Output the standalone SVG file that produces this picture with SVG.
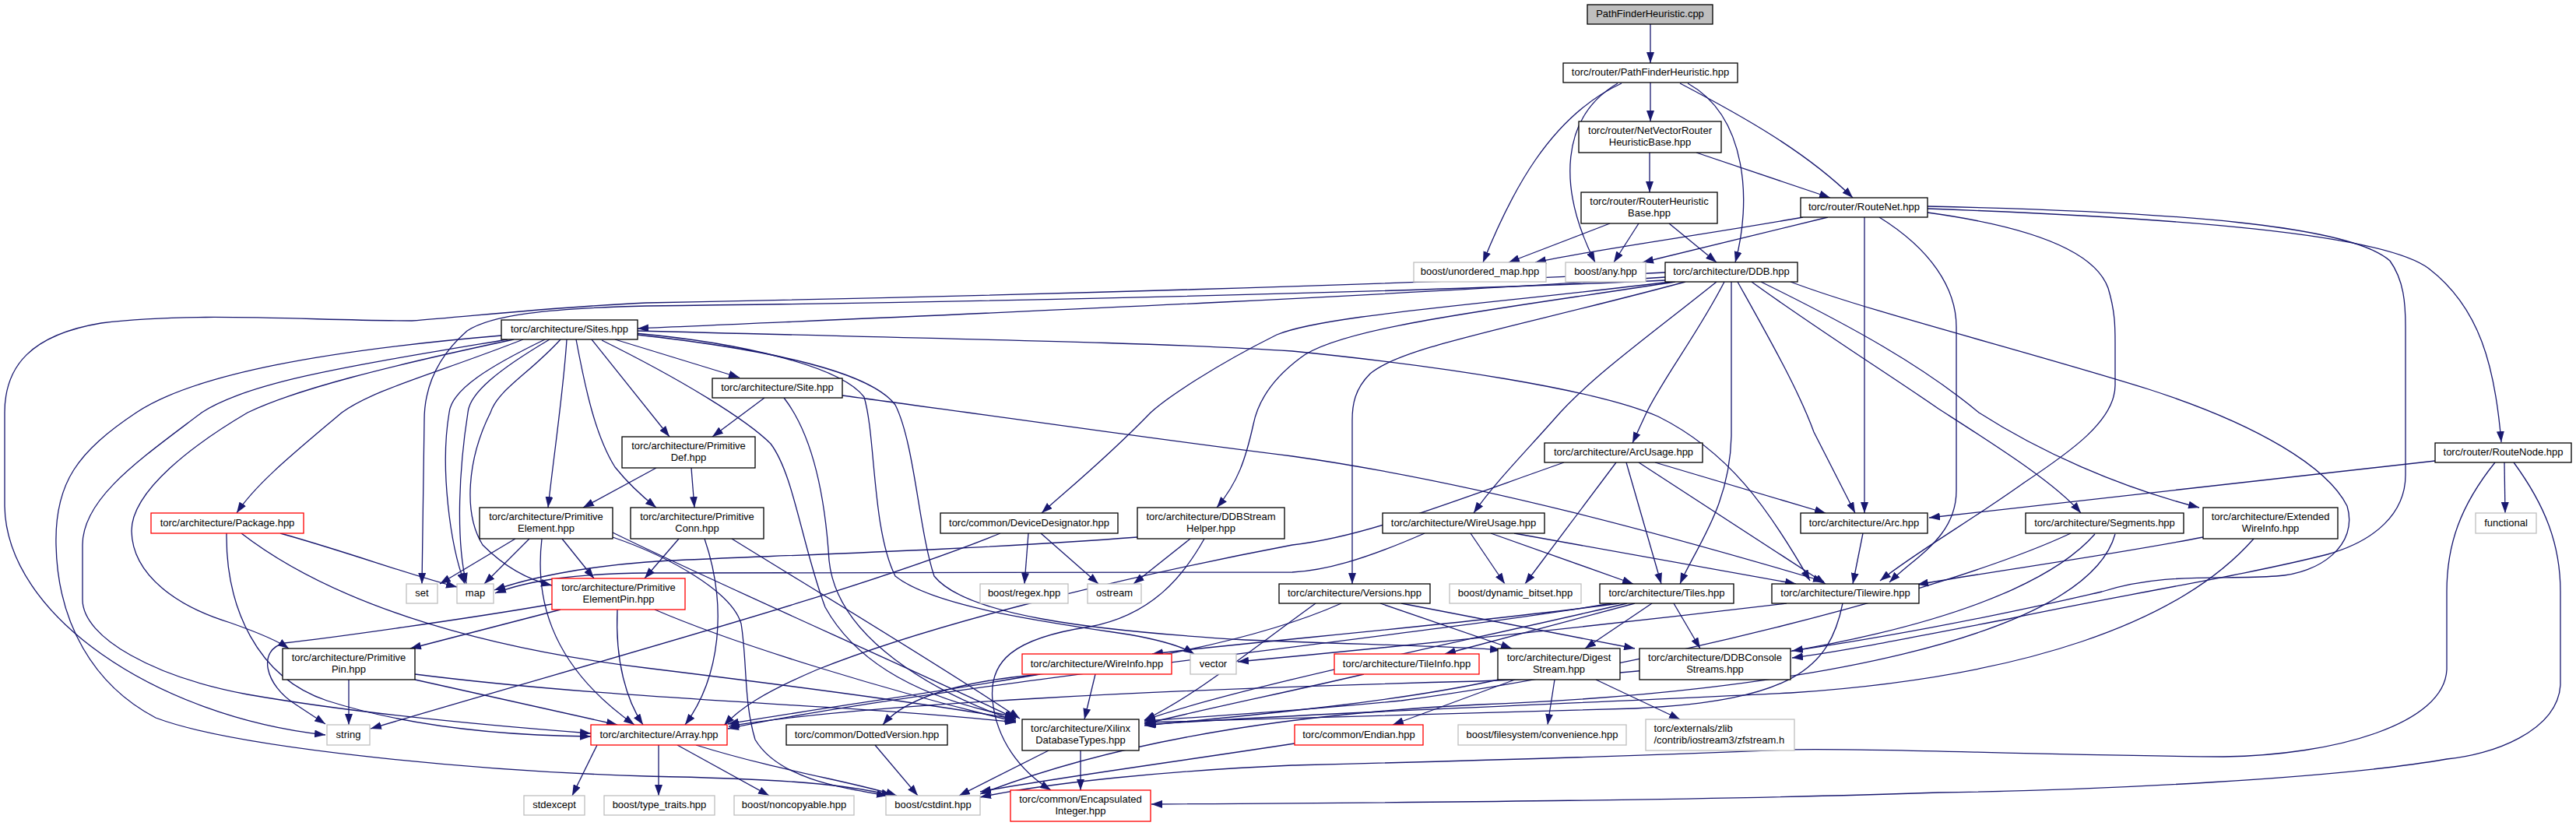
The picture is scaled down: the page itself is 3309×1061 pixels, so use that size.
<svg xmlns="http://www.w3.org/2000/svg" width="3309" height="1061" viewBox="0 0 3309 1061">
<style>
.e{fill:none;stroke:#191970;stroke-width:1.3;marker-end:url(#a)}
.nd rect{fill:#fff;stroke:#000;stroke-width:1.3}
.rd rect{fill:#fff;stroke:#ff0000;stroke-width:1.3}
.gy rect{fill:#fff;stroke:#bfbfbf;stroke-width:1.3}
text{font-family:"Liberation Sans",Arial,sans-serif;font-size:13px;fill:#000;text-anchor:middle}
</style>
<defs><marker id="a" markerUnits="userSpaceOnUse" markerWidth="14" markerHeight="10" refX="14" refY="5" orient="auto"><path d="M0,0L14,5L0,10z" fill="#191970"/></marker></defs>
<rect width="3309" height="1061" fill="#fff"/>
<g id="edges">
<path class="e" d="M2120,31 L2120,81"/>
<path class="e" d="M2120,106 L2120,156"/>
<path class="e" d="M2119,196 L2119,247"/>
<path class="e" d="M2179,196 L2351,254"/>
<path class="e" d="M2158,107 C2240,150 2320,195 2380,254"/>
<path class="e" d="M2083,107 C1990,150 1940,250 1905,337"/>
<path class="e" d="M2078,107 C2005,150 2000,240 2049,337"/>
<path class="e" d="M2168,107 C2245,150 2250,260 2229,337"/>
<path class="e" d="M2068,287 L1938,337"/>
<path class="e" d="M2105,287 L2073,337"/>
<path class="e" d="M2144,287 L2205,337"/>
<path class="e" d="M2316,279 C2200,300 2050,320 1972,337"/>
<path class="e" d="M2348,279 L2110,337"/>
<path class="e" d="M2395,279 L2395,659"/>
<path class="e" d="M2414,279 C2480,320 2513,370 2513,420 L2513,630 C2513,690 2460,715 2427,748"/>
<path class="e" d="M2476,268 C2800,280 3060,300 3120,345 C3185,395 3205,470 3213,568"/>
<path class="e" d="M2476,273 C2600,290 2690,320 2708,370 C2717,400 2717,420 2717,440 L2717,495 C2717,540 2660,580 2600,620 C2530,670 2460,710 2415,746"/>
<path class="e" d="M2476,265 C2800,272 3020,290 3070,335 C3088,360 3090,390 3090,420 L3090,610 C3090,660 3050,695 2990,712 C2880,740 2720,765 2580,795 C2450,820 2360,838 2302,845"/>
<path class="e" d="M2139,356 C1700,385 1200,405 819,422"/>
<path class="e" d="M2139,350 C1800,365 1300,380 830,389 C700,395 600,407 529,412 C400,412 250,400 130,415 C40,430 6,470 6,530 L6,650 C8,790 200,920 418,944"/>
<path class="e" d="M2140,360 C1700,380 1100,390 830,393 C700,396 630,405 600,425 C560,460 545,500 545,540 L542,750"/>
<path class="e" d="M2145,362 C1900,392 1700,405 1640,430 C1560,470 1500,510 1478,530 C1420,590 1370,630 1338,659"/>
<path class="e" d="M2152,362 C1920,398 1720,420 1670,460 C1630,490 1615,520 1610,545 C1600,590 1590,620 1563,652"/>
<path class="e" d="M2165,362 C1950,420 1800,445 1760,480 C1740,500 1737,520 1737,540 L1737,750"/>
<path class="e" d="M2205,362 C2120,430 2050,480 2004,530 C1960,580 1920,620 1893,659"/>
<path class="e" d="M2215,362 C2180,430 2140,480 2115,530 L2097,569"/>
<path class="e" d="M2224,362 L2224,560 C2222,650 2180,700 2158,750"/>
<path class="e" d="M2232,362 C2270,430 2310,500 2330,555 L2383,659"/>
<path class="e" d="M2250,362 C2330,420 2440,490 2490,525 C2560,570 2640,620 2673,659"/>
<path class="e" d="M2262,362 C2380,420 2470,470 2542,530 C2620,580 2720,625 2825,652"/>
<path class="e" d="M2300,362 C2400,400 2600,450 2760,500 C2900,545 2990,600 3015,650 C3030,700 2980,737 2924,740 C2850,745 2780,735 2700,760 C2550,795 2400,822 2302,836"/>
<path class="e" d="M790,436 L950,485"/>
<path class="e" d="M760,436 L860,561"/>
<path class="e" d="M728,436 C724,500 712,580 704,652"/>
<path class="e" d="M740,436 C752,500 765,560 790,600 C810,625 828,640 843,652"/>
<path class="e" d="M720,436 C680,480 640,500 630,530 C600,590 595,660 620,700 C650,730 680,745 709,752"/>
<path class="e" d="M700,436 C630,470 580,500 577,530 C565,600 578,700 597,750"/>
<path class="e" d="M706,436 C640,475 603,505 601,530 C590,600 585,690 599,750"/>
<path class="e" d="M672,436 C560,480 480,500 439,530 C380,580 330,620 304,659"/>
<path class="e" d="M660,436 C500,470 380,500 318,530 C250,570 169,630 169,682 C170,740 230,780 296,800 C330,812 355,822 371,833"/>
<path class="e" d="M652,436 C450,470 320,490 259,530 C180,590 106,640 106,700 L106,770 C106,820 200,870 318,892 C450,915 600,930 759,942"/>
<path class="e" d="M644,431 C420,450 250,480 175,530 C100,580 70,620 72,700 C74,800 120,880 200,922 C300,960 600,990 830,997 C980,1000 1080,1005 1146,1022"/>
<path class="e" d="M819,425 C1200,435 1500,440 1660,451 C1850,470 2050,500 2130,535 C2220,580 2270,650 2325,746"/>
<path class="e" d="M815,428 C950,440 1080,470 1110,510 C1125,560 1120,680 1150,740 C1200,780 1350,800 1450,815 C1490,822 1518,830 1534,840"/>
<path class="e" d="M818,430 C1000,450 1120,480 1150,520 C1175,570 1180,680 1200,740 C1240,790 1400,810 1600,822 C1750,828 1870,830 1928,835"/>
<path class="e" d="M773,437 C880,490 960,540 990,570 C1020,610 1030,700 1060,780 C1110,870 1220,905 1305,921"/>
<path class="e" d="M982,511 L915,561"/>
<path class="e" d="M1082,508 C1250,530 1450,560 1660,586 C1900,620 2150,690 2343,747"/>
<path class="e" d="M1007,511 C1045,560 1060,640 1065,720 C1075,820 1200,890 1305,926"/>
<path class="e" d="M843,601 L749,652"/>
<path class="e" d="M888,601 L892,652"/>
<path class="e" d="M662,692 L565,750"/>
<path class="e" d="M680,692 L622,750"/>
<path class="e" d="M696,692 C688,760 700,850 815,931"/>
<path class="e" d="M722,692 L763,743"/>
<path class="e" d="M787,684 C900,740 1150,850 1305,923"/>
<path class="e" d="M787,690 C860,715 940,760 952,801 C960,850 955,900 970,950 C1000,1000 1080,1012 1140,1022"/>
<path class="e" d="M872,692 L828,743"/>
<path class="e" d="M940,692 C1050,760 1200,850 1310,923"/>
<path class="e" d="M905,692 C935,780 925,870 880,931"/>
<path class="e" d="M709,776 C600,795 420,820 365,826 C330,835 340,880 380,905 L418,930"/>
<path class="e" d="M720,783 L527,833"/>
<path class="e" d="M793,783 C790,850 805,900 826,931"/>
<path class="e" d="M841,783 C950,830 1150,890 1305,927"/>
<path class="e" d="M448,873 L448,931"/>
<path class="e" d="M533,866 C800,900 1100,905 1305,928"/>
<path class="e" d="M533,873 L793,931"/>
<path class="e" d="M360,685 C450,710 530,740 587,754"/>
<path class="e" d="M291,685 C290,780 330,870 420,900 C530,935 650,945 759,946"/>
<path class="e" d="M310,685 C420,770 600,830 830,858 C1050,885 1200,905 1305,924"/>
<path class="e" d="M1285,685 C1100,760 800,840 476,936"/>
<path class="e" d="M1321,685 L1316,750"/>
<path class="e" d="M1337,685 L1411,750"/>
<path class="e" d="M1461,690 C1200,710 900,716 830,722 C750,728 680,742 635,758"/>
<path class="e" d="M1529,692 L1456,750"/>
<path class="e" d="M1547,692 C1520,740 1480,790 1400,805 C1300,820 1270,850 1275,900 C1280,950 1310,990 1350,1015"/>
<path class="e" d="M1723,775 C1600,830 1400,860 1300,870 C1220,880 1160,900 1134,931"/>
<path class="e" d="M1773,775 L1942,833"/>
<path class="e" d="M1800,775 L2100,833"/>
<path class="e" d="M1690,775 C1600,840 1540,890 1470,925"/>
<path class="e" d="M1889,685 L1933,750"/>
<path class="e" d="M1915,685 L2098,750"/>
<path class="e" d="M1945,685 L2307,750"/>
<path class="e" d="M1830,685 C1750,720 1700,733 1660,735 L830,736 C740,737 680,745 636,762"/>
<path class="e" d="M2076,594 L1959,750"/>
<path class="e" d="M2089,594 L2134,750"/>
<path class="e" d="M2105,594 L2345,750"/>
<path class="e" d="M2126,594 L2345,659"/>
<path class="e" d="M2009,594 C1850,650 1750,690 1660,700 C1450,740 1200,800 1050,860 C980,890 950,910 930,932"/>
<path class="e" d="M2393,685 L2380,750"/>
<path class="e" d="M2100,775 L1856,840"/>
<path class="e" d="M2122,775 L2036,833"/>
<path class="e" d="M2150,775 L2184,833"/>
<path class="e" d="M2070,775 C1800,820 1200,880 935,936"/>
<path class="e" d="M2080,775 C1900,800 1600,825 1480,840"/>
<path class="e" d="M2090,775 C1900,820 1600,880 1470,925"/>
<path class="e" d="M2295,775 C2000,810 1750,835 1590,850"/>
<path class="e" d="M2367,775 C2350,860 2300,900 2100,910 C1800,920 1600,925 1470,928"/>
<path class="e" d="M1752,866 C1650,890 1550,910 1470,930"/>
<path class="e" d="M1946,873 L1789,931"/>
<path class="e" d="M1997,873 L1988,931"/>
<path class="e" d="M2050,873 L2158,924"/>
<path class="e" d="M1925,873 C1800,900 1650,915 1470,932"/>
<path class="e" d="M1336,866 C1200,890 1050,910 935,930"/>
<path class="e" d="M1407,866 L1393,924"/>
<path class="e" d="M1347,964 L1232,1022"/>
<path class="e" d="M1388,964 L1388,1015"/>
<path class="e" d="M767,957 L735,1022"/>
<path class="e" d="M846,957 L846,1022"/>
<path class="e" d="M870,957 L988,1022"/>
<path class="e" d="M894,957 C1000,990 1100,1005 1152,1022"/>
<path class="e" d="M1124,957 L1179,1022"/>
<path class="e" d="M1663,955 C1500,980 1350,1000 1259,1017"/>
<path class="e" d="M2660,685 C2500,760 2100,860 1800,900 C1650,915 1550,920 1470,926"/>
<path class="e" d="M2691,686 C2600,790 2300,860 1900,875 C1500,885 1100,905 936,933"/>
<path class="e" d="M2717,686 C2680,820 2300,890 1900,905 C1600,920 1400,965 1259,1020"/>
<path class="e" d="M2830,690 C2700,715 2550,735 2463,751"/>
<path class="e" d="M2895,692 C2800,800 2600,870 2300,890 C2000,905 1700,915 1471,931"/>
<path class="e" d="M3128,592 L2478,665"/>
<path class="e" d="M3217,594 L3218,659"/>
<path class="e" d="M3205,594 C3160,650 3143,700 3143,760 L3143,860 C3140,930 3000,970 2856,972 C2600,970 2400,960 2295,963 C2000,975 1700,982 1660,983 C1500,990 1350,1005 1259,1024"/>
<path class="e" d="M3229,594 C3270,650 3289,700 3289,760 L3289,880 C3285,940 3200,970 3143,975 C3000,1000 2700,1015 2490,1018 C2200,1028 1800,1031 1479,1033"/>
</g>
<g id="n_cpp" class="nd"><rect x="2039" y="6" width="161" height="25" style="fill:#bfbfbf"/><text x="2119.5" y="22.3">PathFinderHeuristic.cpp</text></g>
<g id="n_pfh" class="nd"><rect x="2008" y="81" width="224" height="25"/><text x="2120" y="97.3">torc/router/PathFinderHeuristic.hpp</text></g>
<g id="n_nvr" class="nd"><rect x="2028" y="156" width="183" height="40"/><text x="2119.5" y="171.7">torc/router/NetVectorRouter</text><text x="2119.5" y="186.7">HeuristicBase.hpp</text></g>
<g id="n_rhb" class="nd"><rect x="2031" y="247" width="175" height="40"/><text x="2118.5" y="262.7">torc/router/RouterHeuristic</text><text x="2118.5" y="277.7">Base.hpp</text></g>
<g id="n_routenet" class="nd"><rect x="2313" y="254" width="163" height="25"/><text x="2394.5" y="270.3">torc/router/RouteNet.hpp</text></g>
<g id="n_umap" class="gy"><rect x="1816" y="337" width="170" height="25"/><text x="1901" y="353.3">boost/unordered_map.hpp</text></g>
<g id="n_any" class="gy"><rect x="2011" y="337" width="103" height="25"/><text x="2062.5" y="353.3">boost/any.hpp</text></g>
<g id="n_ddb" class="nd"><rect x="2139" y="337" width="170" height="25"/><text x="2224" y="353.3">torc/architecture/DDB.hpp</text></g>
<g id="n_sites" class="nd"><rect x="644" y="411" width="175" height="25"/><text x="731.5" y="427.3">torc/architecture/Sites.hpp</text></g>
<g id="n_site" class="nd"><rect x="915" y="486" width="167" height="25"/><text x="998.5" y="502.3">torc/architecture/Site.hpp</text></g>
<g id="n_primdef" class="nd"><rect x="799" y="561" width="171" height="40"/><text x="884.5" y="576.7">torc/architecture/Primitive</text><text x="884.5" y="591.7">Def.hpp</text></g>
<g id="n_package" class="rd"><rect x="194" y="659" width="196" height="26"/><text x="292" y="675.5">torc/architecture/Package.hpp</text></g>
<g id="n_primel" class="nd"><rect x="616" y="652" width="171" height="40"/><text x="701.5" y="667.7">torc/architecture/Primitive</text><text x="701.5" y="682.7">Element.hpp</text></g>
<g id="n_primconn" class="nd"><rect x="810" y="652" width="171" height="40"/><text x="895.5" y="667.7">torc/architecture/Primitive</text><text x="895.5" y="682.7">Conn.hpp</text></g>
<g id="n_devdes" class="nd"><rect x="1208" y="659" width="228" height="26"/><text x="1322" y="675.5">torc/common/DeviceDesignator.hpp</text></g>
<g id="n_ddbsh" class="nd"><rect x="1461" y="652" width="189" height="40"/><text x="1555.5" y="667.7">torc/architecture/DDBStream</text><text x="1555.5" y="682.7">Helper.hpp</text></g>
<g id="n_arcusage" class="nd"><rect x="1984" y="569" width="203" height="25"/><text x="2085.5" y="585.3">torc/architecture/ArcUsage.hpp</text></g>
<g id="n_wireusage" class="nd"><rect x="1776" y="659" width="208" height="26"/><text x="1880" y="675.5">torc/architecture/WireUsage.hpp</text></g>
<g id="n_arc" class="nd"><rect x="2313" y="659" width="163" height="26"/><text x="2394.5" y="675.5">torc/architecture/Arc.hpp</text></g>
<g id="n_segments" class="nd"><rect x="2602" y="659" width="203" height="26"/><text x="2703.5" y="675.5">torc/architecture/Segments.hpp</text></g>
<g id="n_extwi" class="nd"><rect x="2830" y="652" width="173" height="40"/><text x="2916.5" y="667.7">torc/architecture/Extended</text><text x="2916.5" y="682.7">WireInfo.hpp</text></g>
<g id="n_routenode" class="nd"><rect x="3128" y="569" width="175" height="25"/><text x="3215.5" y="585.3">torc/router/RouteNode.hpp</text></g>
<g id="n_functional" class="gy"><rect x="3180" y="659" width="78" height="26"/><text x="3219" y="675.5">functional</text></g>
<g id="n_set" class="gy"><rect x="522" y="750" width="40" height="25"/><text x="542" y="766.3">set</text></g>
<g id="n_map" class="gy"><rect x="587" y="750" width="47" height="25"/><text x="610.5" y="766.3">map</text></g>
<g id="n_pep" class="rd"><rect x="709" y="743" width="171" height="40"/><text x="794.5" y="758.7">torc/architecture/Primitive</text><text x="794.5" y="773.7">ElementPin.hpp</text></g>
<g id="n_regex" class="gy"><rect x="1259" y="750" width="113" height="25"/><text x="1315.5" y="766.3">boost/regex.hpp</text></g>
<g id="n_ostream" class="gy"><rect x="1397" y="750" width="69" height="25"/><text x="1431.5" y="766.3">ostream</text></g>
<g id="n_versions" class="nd"><rect x="1643" y="750" width="194" height="25"/><text x="1740" y="766.3">torc/architecture/Versions.hpp</text></g>
<g id="n_dynbit" class="gy"><rect x="1862" y="750" width="169" height="25"/><text x="1946.5" y="766.3">boost/dynamic_bitset.hpp</text></g>
<g id="n_tiles" class="nd"><rect x="2055" y="750" width="172" height="25"/><text x="2141" y="766.3">torc/architecture/Tiles.hpp</text></g>
<g id="n_tilewire" class="nd"><rect x="2276" y="750" width="189" height="25"/><text x="2370.5" y="766.3">torc/architecture/Tilewire.hpp</text></g>
<g id="n_primpin" class="nd"><rect x="363" y="833" width="170" height="40"/><text x="448" y="848.7">torc/architecture/Primitive</text><text x="448" y="863.7">Pin.hpp</text></g>
<g id="n_wireinfo" class="rd"><rect x="1313" y="840" width="192" height="26"/><text x="1409" y="856.5">torc/architecture/WireInfo.hpp</text></g>
<g id="n_vector" class="gy"><rect x="1529" y="840" width="59" height="26"/><text x="1558.5" y="856.5">vector</text></g>
<g id="n_tileinfo" class="rd"><rect x="1714" y="840" width="186" height="26"/><text x="1807" y="856.5">torc/architecture/TileInfo.hpp</text></g>
<g id="n_digest" class="nd"><rect x="1924" y="833" width="157" height="40"/><text x="2002.5" y="848.7">torc/architecture/Digest</text><text x="2002.5" y="863.7">Stream.hpp</text></g>
<g id="n_ddbcs" class="nd"><rect x="2106" y="833" width="194" height="40"/><text x="2203" y="848.7">torc/architecture/DDBConsole</text><text x="2203" y="863.7">Streams.hpp</text></g>
<g id="n_string" class="gy"><rect x="420" y="931" width="55" height="26"/><text x="447.5" y="947.5">string</text></g>
<g id="n_array" class="rd"><rect x="759" y="931" width="175" height="26"/><text x="846.5" y="947.5">torc/architecture/Array.hpp</text></g>
<g id="n_dotted" class="nd"><rect x="1010" y="931" width="207" height="26"/><text x="1113.5" y="947.5">torc/common/DottedVersion.hpp</text></g>
<g id="n_xdt" class="nd"><rect x="1313" y="924" width="150" height="40"/><text x="1388" y="939.7">torc/architecture/Xilinx</text><text x="1388" y="954.7">DatabaseTypes.hpp</text></g>
<g id="n_endian" class="rd"><rect x="1663" y="931" width="165" height="26"/><text x="1745.5" y="947.5">torc/common/Endian.hpp</text></g>
<g id="n_fsconv" class="gy"><rect x="1873" y="931" width="216" height="26"/><text x="1981" y="947.5">boost/filesystem/convenience.hpp</text></g>
<g id="n_zf" class="gy"><rect x="2114" y="924" width="191" height="40"/><text x="2124.5" y="939.7" style="text-anchor:start">torc/externals/zlib</text><text x="2124.5" y="954.7" style="text-anchor:start">/contrib/iostream3/zfstream.h</text></g>
<g id="n_stdexcept" class="gy"><rect x="673" y="1022" width="78" height="25"/><text x="712" y="1038.3">stdexcept</text></g>
<g id="n_typetraits" class="gy"><rect x="776" y="1022" width="142" height="25"/><text x="847" y="1038.3">boost/type_traits.hpp</text></g>
<g id="n_noncopy" class="gy"><rect x="943" y="1022" width="154" height="25"/><text x="1020" y="1038.3">boost/noncopyable.hpp</text></g>
<g id="n_cstdint" class="gy"><rect x="1138" y="1022" width="121" height="25"/><text x="1198.5" y="1038.3">boost/cstdint.hpp</text></g>
<g id="n_encap" class="rd"><rect x="1298" y="1015" width="180" height="40"/><text x="1388" y="1030.7">torc/common/Encapsulated</text><text x="1388" y="1045.7">Integer.hpp</text></g>
</svg>
